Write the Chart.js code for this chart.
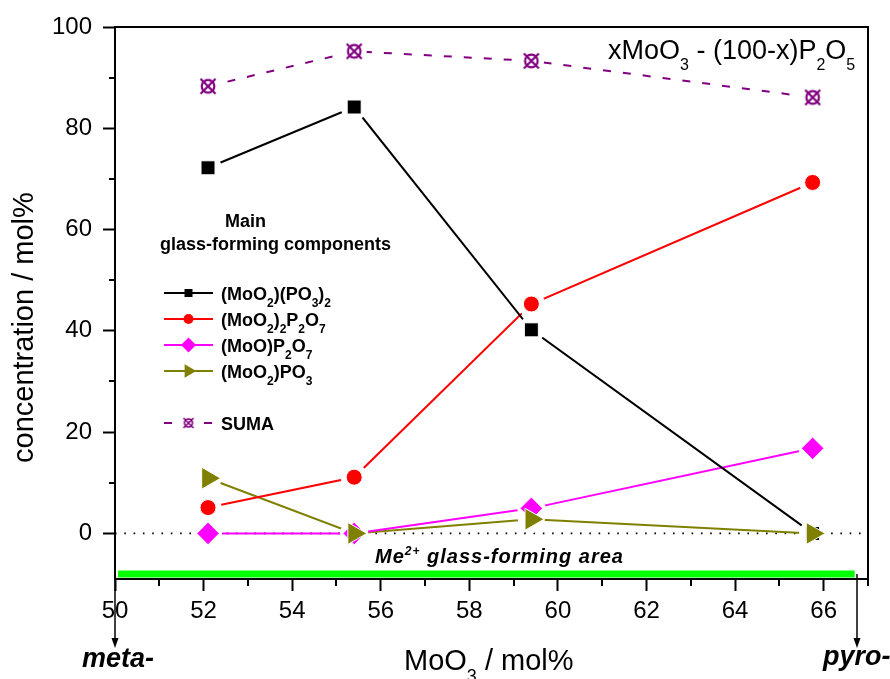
<!DOCTYPE html>
<html>
<head>
<meta charset="utf-8">
<script src="https://cdn.jsdelivr.net/npm/chart.js@4.4.0/dist/chart.umd.min.js"></script>
<style>
  html, body { margin: 0; padding: 0; background: #fff; }
  #wrap { width: 890px; height: 679px; }
</style>
</head>
<body>
<div id="wrap"><canvas id="c" width="890" height="679"></canvas></div>
<script>
// MoO3 content of the glasses (mol%)
const moo3 = [52.1, 55.4, 59.4, 65.75];
// concentration of each structural unit (mol%)
const moo2_po3_2 = [72.2, 84.2, 40.2, 0];     // (MoO2)(PO3)2
const moo2_2_p2o7 = [5.1, 11.1, 45.3, 69.3];  // (MoO2)2P2O7
const moo_p2o7 = [0, 0, 4.95, 16.8];          // (MoO)P2O7
const moo2_po3 = [10.9, 0, 2.8, 0];           // (MoO2)PO3
const suma = [88.3, 95.2, 93.3, 86.1];        // SUMA
// axis ticks
const xTicks = [50, 51, 52, 53, 54, 55, 56, 57, 58, 59, 60, 61, 62, 63, 64, 65, 66, 67];
const yTicks = [0, 10, 20, 30, 40, 50, 60, 70, 80, 90, 100];
// Me2+ glass-forming area band and meta-/pyro- composition markers
const glassArea = [50.07, 66.7];
const glassAreaLevel = -8;
const metaPyro = [50, 66.75];

const FAM = '"Liberation Sans", Arial, Helvetica, sans-serif';

function sumaMarker(size, r, arm, lw) {
  const cv = document.createElement('canvas');
  cv.width = size; cv.height = size;
  const g = cv.getContext('2d');
  const c = size / 2;
  g.strokeStyle = '#800080';
  g.lineWidth = lw;
  g.beginPath(); g.arc(c, c, r, 0, Math.PI * 2); g.stroke();
  g.beginPath();
  g.moveTo(c - arm, c - arm); g.lineTo(c + arm, c + arm);
  g.moveTo(c + arm, c - arm); g.lineTo(c - arm, c + arm);
  g.stroke();
  return cv;
}
const sumaImg = sumaMarker(22, 6.3, 7.5, 2.2);
const sumaImgSmall = sumaMarker(14, 4, 5, 1.6);

const series = [
  { key: 'a', vals: moo2_po3_2, color: '#000000', style: 'rect', r: 9.9, rot: 0, halo: 13.5, order: 1,
    label: [['(MoO'], ['2', 1], [')(PO'], ['3', 1], [')'], ['2', 1]] },
  { key: 'b', vals: moo2_2_p2o7, color: '#FF0000', style: 'circle', r: 8, rot: 0, halo: 13.5, order: 3,
    label: [['(MoO'], ['2', 1], [')'], ['2', 1], ['P'], ['2', 1], ['O'], ['7', 1]] },
  { key: 'c', vals: moo_p2o7, color: '#FF00FF', style: 'rectRot', r: 11.3, rot: 0, halo: 14, order: 2,
    label: [['(MoO)P'], ['2', 1], ['O'], ['7', 1]] },
  { key: 'd', vals: moo2_po3, color: '#808000', style: 'triangle', r: 12.7, rot: 90, halo: 13.5, order: 0,
    label: [['(MoO'], ['2', 1], [')PO'], ['3', 1]] },
  { key: 's', vals: suma, color: '#800080', style: sumaImg, r: 11, rot: 0, halo: 12.5, order: 4, dash: [8, 12],
    label: [['SUMA']] }
];

const pts = vals => moo3.map((x, i) => ({ x: x, y: vals[i] }));

const datasets = [];
// zero reference line
datasets.push({
  data: [{ x: xTicks[0], y: 0 }, { x: xTicks[xTicks.length - 1], y: 0 }],
  borderColor: '#000', borderWidth: 1.6, borderDash: [1.6, 7.7], pointRadius: 0, order: 50
});
// glass-forming area band
datasets.push({
  data: [{ x: glassArea[0], y: glassAreaLevel }, { x: glassArea[1], y: glassAreaLevel }],
  borderColor: '#00FF00', borderWidth: 7, borderCapStyle: 'butt', pointRadius: 0, order: 50
});
series.forEach((s, i) => {
  // connecting line
  datasets.push({
    data: pts(s.vals), borderColor: s.color, borderWidth: 2, borderDash: s.dash || [],
    pointRadius: 0, order: 40 + i
  });
  // white clearance around the symbols
  datasets.push({
    data: pts(s.vals), showLine: false, pointStyle: 'circle', pointRadius: s.halo,
    pointBackgroundColor: '#fff', pointBorderWidth: 0, order: 20 + i
  });
  // symbols
  datasets.push({
    data: pts(s.vals), showLine: false, pointStyle: s.style, pointRadius: s.r, pointRotation: s.rot,
    pointBackgroundColor: s.color, pointBorderColor: '#fff', pointBorderWidth: s.key === 's' ? 0 : 1,
    order: s.order
  });
});

function richText(ctx, x, y, parts, o) {
  let cx = x;
  ctx.save();
  if (o.spacing && 'letterSpacing' in ctx) ctx.letterSpacing = o.spacing;
  parts.forEach(p => {
    const kind = p[1] || 0; // 0 normal, 1 subscript, 2 superscript
    const size = kind ? o.small : o.size;
    ctx.font = `${o.italic ? 'italic ' : ''}${o.bold ? 'bold ' : ''}${size}px ${FAM}`;
    const dy = kind === 1 ? o.subDy : (kind === 2 ? o.supDy : 0);
    ctx.fillText(p[0], cx, y + dy);
    cx += ctx.measureText(p[0]).width;
  });
  ctx.restore();
  return cx;
}

function legendSymbol(ctx, s, x, y) {
  ctx.save();
  ctx.fillStyle = s.color;
  ctx.beginPath();
  if (s.style === 'rect') {
    ctx.rect(x - 4, y - 4, 8, 8);
  } else if (s.style === 'circle') {
    ctx.arc(x, y, 5, 0, Math.PI * 2);
  } else if (s.style === 'rectRot') {
    ctx.moveTo(x - 7.5, y); ctx.lineTo(x, y - 7.5); ctx.lineTo(x + 7.5, y); ctx.lineTo(x, y + 7.5);
  } else if (s.style === 'triangle') {
    const r = 7.7;
    ctx.moveTo(x + r, y);
    ctx.lineTo(x - r / 2, y - r * 0.866);
    ctx.lineTo(x - r / 2, y + r * 0.866);
  }
  ctx.closePath();
  ctx.fill();
  ctx.restore();
}

const decor = {
  id: 'decor',
  afterDraw(chart) {
    const ctx = chart.ctx;
    const a = chart.chartArea;
    const xs = chart.scales.x, ys = chart.scales.y;
    ctx.save();
    ctx.strokeStyle = '#000';
    ctx.fillStyle = '#000';
    ctx.lineWidth = 2;
    // minor ticks
    ctx.beginPath();
    xTicks.filter(v => v % 2 !== 0).forEach(v => {
      const px = Math.round(xs.getPixelForValue(v));
      ctx.moveTo(px, a.bottom); ctx.lineTo(px, a.bottom + 7);
    });
    yTicks.filter(v => v % 20 !== 0).forEach(v => {
      const py = Math.round(ys.getPixelForValue(v));
      ctx.moveTo(a.left, py); ctx.lineTo(a.left - 6, py);
    });
    ctx.stroke();
    // frame
    ctx.strokeRect(a.left, a.top, a.right - a.left, a.bottom - a.top);

    ctx.textAlign = 'left';
    ctx.textBaseline = 'alphabetic';
    // composition formula
    richText(ctx, 608, 59, [['xMoO'], ['3', 1], [' - (100-x)P'], ['2', 1], ['O'], ['5', 1]],
      { size: 27, small: 16, subDy: 11 });
    // x axis title
    richText(ctx, 404, 670, [['MoO'], ['3', 1], [' / mol%']], { size: 29, small: 18, subDy: 12 });
    // y axis title
    ctx.save();
    ctx.translate(33, 463);
    ctx.rotate(-Math.PI / 2);
    ctx.font = `29px ${FAM}`;
    ctx.fillText('concentration / mol%', 0, 0);
    ctx.restore();

    // legend block
    ctx.font = `bold 18px ${FAM}`;
    ctx.fillText('Main', 225, 227);
    ctx.fillText('glass-forming components', 160, 250);
    const rows = [300, 326, 352, 378, 430];
    series.forEach((s, i) => {
      const base = rows[i];
      const ly = base - 7;
      ctx.save();
      ctx.strokeStyle = s.color;
      ctx.lineWidth = 2;
      ctx.beginPath();
      if (s.dash) {
        ctx.moveTo(164, ly); ctx.lineTo(172, ly);
        ctx.moveTo(204, ly); ctx.lineTo(212, ly);
      } else {
        ctx.moveTo(164, ly); ctx.lineTo(213, ly);
      }
      ctx.stroke();
      ctx.restore();
      if (s.key === 's') {
        ctx.drawImage(sumaImgSmall, 188.5 - 7, ly - 7);
      } else {
        legendSymbol(ctx, s, 188.5, ly);
      }
      ctx.fillStyle = '#000';
      richText(ctx, 221, base, s.label, { size: 18, small: 12, bold: true, subDy: 7 });
    });

    // glass-forming area caption
    richText(ctx, 375, 563, [['Me'], ['2+', 2], [' glass-forming area']],
      { size: 20, small: 12, bold: true, italic: true, supDy: -8, spacing: '1px' });

    // meta- / pyro- arrows
    const arrow = (x, y1, y2) => {
      ctx.save();
      ctx.lineWidth = 1.5;
      ctx.beginPath(); ctx.moveTo(x, y1); ctx.lineTo(x, y2 - 6); ctx.stroke();
      ctx.beginPath(); ctx.moveTo(x - 3.5, y2 - 10); ctx.lineTo(x + 3.5, y2 - 10); ctx.lineTo(x, y2);
      ctx.closePath(); ctx.fill();
      ctx.restore();
    };
    arrow(Math.round(xs.getPixelForValue(metaPyro[0])), a.bottom, 648);
    arrow(Math.round(xs.getPixelForValue(metaPyro[1])), a.bottom - 5, 648);
    ctx.font = `italic bold 27px ${FAM}`;
    ctx.fillText('meta-', 82, 667);
    ctx.fillText('pyro-', 823, 665);
    ctx.restore();
  }
};

new Chart(document.getElementById('c'), {
  type: 'line',
  data: { datasets: datasets },
  plugins: [decor],
  options: {
    responsive: false,
    animation: false,
    devicePixelRatio: 1,
    layout: { padding: { top: 27, right: 22, left: 0, bottom: 0 } },
    plugins: { legend: { display: false }, tooltip: { enabled: false } },
    scales: {
      x: {
        type: 'linear', position: 'bottom', min: 50, max: 67,
        afterBuildTicks: s => { s.ticks = xTicks.map(v => ({ value: v })); },
        afterFit: s => { s.height = 100; },
        border: { display: false },
        grid: {
          drawOnChartArea: false, drawTicks: true, tickLength: 12, tickWidth: 2,
          tickColor: c => (c.tick && c.tick.value % 2 === 0) ? '#000' : 'rgba(0,0,0,0)'
        },
        ticks: {
          autoSkip: false, maxRotation: 0, padding: 6, color: '#000',
          font: { size: 24, family: FAM },
          callback: v => (v % 2 === 0 ? String(v) : '')
        }
      },
      y: {
        type: 'linear', min: -9, max: 100,
        afterBuildTicks: s => { s.ticks = yTicks.map(v => ({ value: v })); },
        afterFit: s => { s.width = 115; },
        border: { display: false },
        grid: {
          drawOnChartArea: false, drawTicks: true, tickLength: 12, tickWidth: 2,
          tickColor: c => (c.tick && c.tick.value % 20 === 0) ? '#000' : 'rgba(0,0,0,0)'
        },
        ticks: {
          padding: 11, color: '#000',
          font: { size: 24, family: FAM },
          callback: v => (v % 20 === 0 ? String(v) : '')
        }
      }
    }
  }
});
</script>
</body>
</html>
